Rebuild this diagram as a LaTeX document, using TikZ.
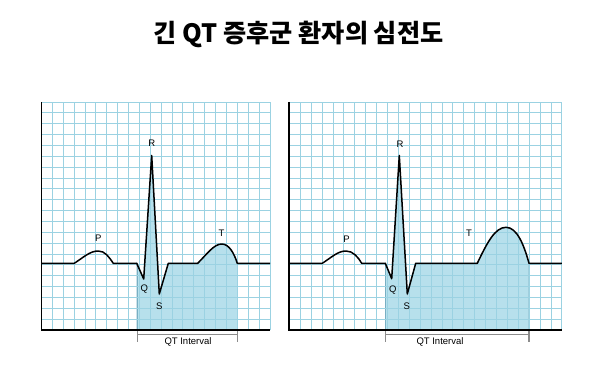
\documentclass[tikz,border=0pt]{standalone}
\usepackage{fontspec}
\newfontfamily\krfont{Noto Sans CJK KR}
\newfontfamily\labfont{Liberation Sans}
\definecolor{gridblue}{RGB}{155,210,226}
\definecolor{qtfill}{RGB}{183,224,236}
\definecolor{qtedge}{RGB}{120,175,195}
\definecolor{brgray}{RGB}{140,140,140}
\tikzset{
  gridline/.style={gridblue, line width=0.75pt},
  axisline/.style={black, line width=1.8pt},
  ecg/.style={black, line width=1.5pt, line join=round},
  qtarea/.style={fill=qtfill, draw=qtedge, line width=0.6pt},
  wavelabel/.style={font=\labfont\fontsize{9.5}{10}\selectfont, inner sep=0pt},
  bracket/.style={brgray, line width=1.3pt},
  titletext/.style={font=\krfont\bfseries\fontsize{25.2}{29}\selectfont, inner sep=0pt}
}
\begin{document}
\begin{tikzpicture}[x=1pt,y=-1pt]
\useasboundingbox[fill=white] (0,0) rectangle (600,382);

\node[titletext] (title) at (298.5,34) {긴 QT 증후군 환자의 심전도};

% ---------- Left panel ----------
\fill[qtarea] (137,330) -- (137,263.3) -- (143.7,279) -- (151.7,155.5) -- (159.3,294) -- (168.3,263.3) -- (197.7,263.3)
  .. controls (207,254) and (214,244) .. (221.7,244)
  .. controls (229,244) and (234,253) .. (237.3,263.3) -- (237.3,330) -- cycle;
\draw[qtarea, fill=none] (137,330) -- (137,263.3) (237.3,263.3) -- (237.3,330);
\foreach \k in {1,...,21} {
  \draw[gridline] ({41.4+\k*10.88},330) -- ({41.4+\k*10.88},102);
  \draw[gridline] (41.4,{330-\k*10.86}) -- (270,{330-\k*10.86});
}
\draw[axisline] (41.4,102) -- (41.4,330) -- (270,330);
\draw[ecg] (41.4,263.3) -- (74.3,263.3)
  .. controls (84,257) and (90,251) .. (98.3,251)
  .. controls (105,251) and (109,257) .. (113.3,263.3)
  -- (136.7,263.3) -- (143.7,279) -- (151.7,155.5) -- (159.3,294) -- (168.3,263.3) -- (197.7,263.3)
  .. controls (207,254) and (214,244) .. (221.7,244)
  .. controls (229,244) and (234,253) .. (237.3,263.3) -- (270,263.3);
\node[wavelabel] (lP) at (98.3,238) {P};
\node[wavelabel] (lQ) at (144.3,289.3) {Q};
\node[wavelabel] (lR) at (151.7,143.5) {R};
\node[wavelabel] (lS) at (159.3,306.7) {S};
\node[wavelabel] (lT) at (221.5,233.3) {T};
\coordinate (lb1) at (137.3,331);
\coordinate (lb2) at (237.3,331);
\coordinate (lc1) at (137.3,334.5);
\coordinate (lc2) at (237.3,334.5);
\draw[bracket] (lb1) -- ++(0,11) (lb2) -- ++(0,11);
\draw[bracket] (lc1) -- (lc2);
\node[wavelabel] (lqt) at (188,342) {QT Interval};

% ---------- Right panel ----------
\fill[qtarea] (385.3,330) -- (385.3,263.3) -- (391.7,278.7) -- (399.3,155.5) -- (407.3,294) -- (415.7,263.3) -- (477.3,263.3)
  .. controls (487,243) and (495,227.3) .. (506,227.3)
  .. controls (517,227.3) and (524,245) .. (529,263.3) -- (529,330) -- cycle;
\draw[qtarea, fill=none] (385.3,330) -- (385.3,263.3) (529,263.3) -- (529,330);
\foreach \k in {1,...,25} {
  \draw[gridline] ({289.3+\k*10.9},330) -- ({289.3+\k*10.9},102);
}
\foreach \k in {1,...,21} {
  \draw[gridline] (289.3,{330-\k*10.86}) -- (561.8,{330-\k*10.86});
}
\draw[axisline] (289.3,102) -- (289.3,330) -- (561.8,330);
\draw[ecg] (289.3,263.3) -- (322.3,263.3)
  .. controls (332,257) and (338,251) .. (346,251)
  .. controls (353,251) and (358,257) .. (361.7,263.3)
  -- (385.3,263.3) -- (391.7,278.7) -- (399.3,155.5) -- (407.3,294) -- (415.7,263.3) -- (477.3,263.3)
  .. controls (487,243) and (495,227.3) .. (506,227.3)
  .. controls (517,227.3) and (524,245) .. (529,263.3) -- (561.8,263.3);
\node[wavelabel] (rP) at (346.5,239) {P};
\node[wavelabel] (rQ) at (392.7,290) {Q};
\node[wavelabel] (rR) at (400,144.3) {R};
\node[wavelabel] (rS) at (406.7,306.7) {S};
\node[wavelabel] (rT) at (469,233) {T};
\coordinate (rb1) at (385.3,331);
\coordinate (rb2) at (529,331);
\coordinate (rc1) at (385.3,334.5);
\coordinate (rc2) at (529,334.5);
\draw[bracket] (rb1) -- ++(0,11) (rb2) -- ++(0,11);
\draw[bracket] (rc1) -- (rc2);
\node[wavelabel] (rqt) at (440,342) {QT Interval};
\end{tikzpicture}
\end{document}
